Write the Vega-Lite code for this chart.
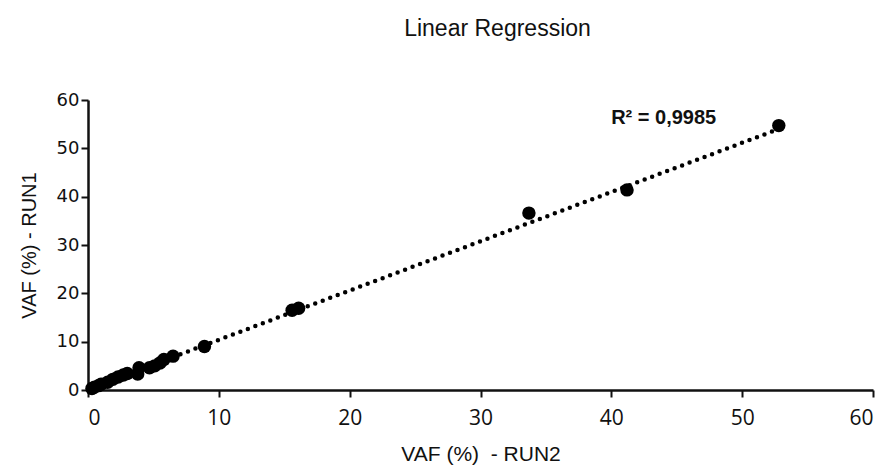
{
  "$schema": "https://vega.github.io/schema/vega-lite/v6.json",
  "autosize": "none",
  "padding": {"left": 88, "top": 100, "right": 13, "bottom": 78},
  "width": 785,
  "height": 290,
  "background": "white",
  "title": {
    "text": "Linear Regression",
    "font": "Liberation Sans",
    "fontSize": 23,
    "fontWeight": "normal",
    "color": "#111",
    "anchor": "middle",
    "dx": 17,
    "offset": 50
  },
  "config": {
    "view": {"stroke": null},
    "axis": {
      "grid": false,
      "domainColor": "#111",
      "domainWidth": 2.5,
      "tickColor": "#111",
      "tickWidth": 2,
      "tickSize": 7,
      "labelColor": "#111",
      "titleFont": "Liberation Sans",
      "titleFontSize": 20,
      "titleFontWeight": "normal",
      "titleColor": "#111"
    }
  },
  "datasets": {
    "pts": [
      {"run2": 0.3, "run1": 0.3},
      {"run2": 0.5, "run1": 0.6},
      {"run2": 0.8, "run1": 0.9},
      {"run2": 1.0, "run1": 1.2},
      {"run2": 1.5, "run1": 1.6},
      {"run2": 1.9, "run1": 2.2},
      {"run2": 2.3, "run1": 2.7},
      {"run2": 2.7, "run1": 3.1},
      {"run2": 3.0, "run1": 3.4},
      {"run2": 3.8, "run1": 3.3},
      {"run2": 3.9, "run1": 4.6},
      {"run2": 4.7, "run1": 4.6},
      {"run2": 5.1, "run1": 5.0},
      {"run2": 5.5, "run1": 5.6},
      {"run2": 5.8, "run1": 6.3},
      {"run2": 6.5, "run1": 7.0},
      {"run2": 8.9, "run1": 9.0},
      {"run2": 15.6, "run1": 16.5},
      {"run2": 16.1, "run1": 16.9},
      {"run2": 33.7, "run1": 36.6},
      {"run2": 41.2, "run1": 41.4},
      {"run2": 52.8, "run1": 54.7}
    ],
    "fit": [
      {"run2": 0.2, "run1": 0.4},
      {"run2": 52.8, "run1": 54.0}
    ],
    "note": [
      {"run2": 44, "run1": 56.2, "label": "R² = 0,9985"}
    ]
  },
  "layer": [
    {
      "data": {"name": "fit"},
      "mark": {"type": "line", "color": "#000", "strokeWidth": 4.5, "strokeCap": "round", "strokeDash": [0, 8]},
      "encoding": {
        "x": {"field": "run2", "type": "quantitative", "scale": {"domain": [0, 60], "nice": false},
              "axis": {"title": "VAF (%)\u00a0 - RUN2", "titleFontSize": 21, "values": [0, 10, 20, 30, 40, 50, 60], "labelFont": "Open Sans", "labelFontSize": 21, "labelPadding": 10, "titlePadding": 15}},
        "y": {"field": "run1", "type": "quantitative", "scale": {"domain": [0, 60], "nice": false},
              "axis": {"title": "VAF (%) - RUN1", "values": [0, 10, 20, 30, 40, 50, 60], "labelFont": "DejaVu Sans", "labelFontSize": 18, "labelPadding": 2, "titlePadding": 17}}
      }
    },
    {
      "data": {"name": "pts"},
      "mark": {"type": "circle", "color": "#000", "opacity": 1, "size": 180},
      "encoding": {
        "x": {"field": "run2", "type": "quantitative"},
        "y": {"field": "run1", "type": "quantitative"}
      }
    },
    {
      "data": {"name": "note"},
      "mark": {"type": "text", "font": "Liberation Sans", "fontSize": 20, "fontWeight": "bold", "color": "#111", "align": "center", "baseline": "middle"},
      "encoding": {
        "x": {"field": "run2", "type": "quantitative"},
        "y": {"field": "run1", "type": "quantitative"},
        "text": {"field": "label"}
      }
    }
  ]
}
